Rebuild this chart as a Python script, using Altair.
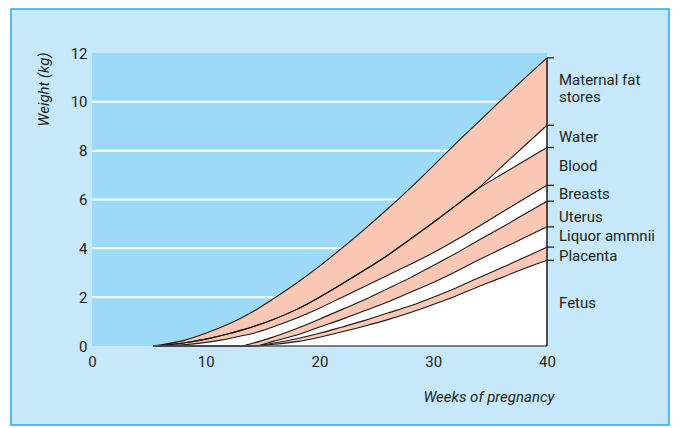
import altair as alt
import pandas as pd

# ---- data (cumulative weight in kg, top of each band) ----
weeks = [5.4, 8, 10, 12, 13, 14.2, 16, 18, 20, 22, 24, 26, 28, 30, 32, 33.8, 36, 38, 40]
fetus_top    = [0, 0, 0, 0, 0, 0, 0.07, 0.18, 0.36, 0.58, 0.82, 1.08, 1.37, 1.70, 2.05, 2.40, 2.80, 3.17, 3.51]
placenta_top = [0, 0, 0, 0, 0, 0, 0.12, 0.30, 0.52, 0.78, 1.05, 1.35, 1.65, 2.00, 2.38, 2.75, 3.20, 3.62, 4.05]
liquor_top   = [0, 0, 0, 0, 0, 0, 0.20, 0.45, 0.78, 1.10, 1.45, 1.80, 2.20, 2.60, 3.05, 3.48, 3.98, 4.43, 4.88]
uterus_top   = [0, 0, 0, 0, 0, 0.12, 0.38, 0.72, 1.10, 1.50, 1.90, 2.35, 2.80, 3.30, 3.80, 4.28, 4.85, 5.40, 5.93]
breasts_top  = [0, 0.05, 0.15, 0.30, 0.40, 0.52, 0.80, 1.15, 1.55, 2.00, 2.45, 2.90, 3.35, 3.82, 4.34, 4.84, 5.47, 6.03, 6.58]
blood_top    = [0, 0.12, 0.28, 0.50, 0.63, 0.80, 1.10, 1.50, 2.00, 2.55, 3.12, 3.72, 4.38, 5.06, 5.76, 6.40, 7.02, 7.58, 8.13]
water_top    = [0, 0.12, 0.28, 0.50, 0.63, 0.80, 1.10, 1.50, 2.00, 2.55, 3.12, 3.72, 4.38, 5.06, 5.76, 6.40, 7.34, 8.19, 9.04]
total_top    = [0, 0.22, 0.52, 0.90, 1.12, 1.42, 1.95, 2.58, 3.27, 4.02, 4.80, 5.62, 6.48, 7.38, 8.30, 9.10, 10.08, 10.95, 11.80]

bands = ["Fetus", "Placenta", "Liquor ammnii", "Uterus", "Breasts", "Blood", "Water", "Maternal fat stores"]
band_tops = [fetus_top, placenta_top, liquor_top, uterus_top, breasts_top, blood_top, water_top, total_top]
band_fill = ["white", "#f9c7b3", "white", "#f9c7b3", "white", "#f9c7b3", "white", "#f9c7b3"]

label_text = ["Maternal fat", "stores", "Water", "Blood", "Breasts", "Uterus", "Liquor ammnii", "Placenta", "Fetus"]
label_y = [10.88, 10.2, 8.57, 7.36, 6.23, 5.30, 4.49, 3.67, 1.76]

grid_values = [2, 4, 6, 8, 10]
x_ticks = [0, 10, 20, 30, 40]
y_ticks = [0, 2, 4, 6, 8, 10, 12]

# ---- tables ----
rows = []
for i, name in enumerate(bands):
    lower = band_tops[i - 1] if i > 0 else [0] * len(weeks)
    for w, lo, hi in zip(weeks, lower, band_tops[i]):
        rows.append({"week": w, "band": name, "lower": lo, "upper": hi, "order": i})
band_df = pd.DataFrame(rows)

line_rows = []
for name, tops in zip(bands, band_tops):
    for w, v in zip(weeks, tops):
        line_rows.append({"week": w, "line": name, "value": v})
line_df = pd.DataFrame(line_rows)

end_df = pd.DataFrame({"value": [t[-1] for t in band_tops]})
label_df = pd.DataFrame({"label": label_text, "y": label_y})
grid_df = pd.DataFrame({"g": grid_values})

W, H = 455, 293
TEXT = "#231f20"
FONT = "Roboto"

xscale = alt.Scale(domain=[0, 40], nice=False, zero=False)
yscale = alt.Scale(domain=[0, 12], nice=False)
xaxis = alt.Axis(values=x_ticks, title="Weeks of pregnancy", titleX=462, titleY=55,
                 titleAlign="right", titleBaseline="alphabetic", titleFontStyle="italic",
                 labelPadding=8, titleFontWeight="normal", zindex=2, labelFlush=False)
yaxis = alt.Axis(values=y_ticks, title="Weight (kg)", titleX=-49, titleY=36, titleAngle=270,
                 titleAlign="center", titleBaseline="middle", titleFontStyle="italic",
                 labelPadding=5, titleFontWeight="normal", zindex=2, labelFlush=False)

panel = alt.Chart(pd.DataFrame({"a": [0]})).mark_rect(
    fill="#c6e8fa", stroke="#2ba9e1", strokeWidth=1.5
).encode(x=alt.value(-81), x2=alt.value(577), y=alt.value(-44), y2=alt.value(372))

plotbg = alt.Chart(pd.DataFrame({"a": [0]})).mark_rect(fill="#9dd9f8").encode(
    x=alt.value(0), x2=alt.value(W), y=alt.value(0), y2=alt.value(H)
)

grid = alt.Chart(grid_df).mark_rule(color="white", strokeWidth=2).encode(
    x=alt.X(datum=0, scale=xscale, axis=xaxis),
    x2=alt.X2(datum=40),
    y=alt.Y("g:Q", scale=yscale, axis=yaxis),
)

areas = alt.Chart(band_df).mark_area(interpolate="monotone", strokeWidth=0).encode(
    x=alt.X("week:Q", scale=xscale, axis=xaxis),
    y=alt.Y("upper:Q", scale=yscale, axis=yaxis, stack=None),
    y2="lower:Q",
    color=alt.Color("band:N", scale=alt.Scale(domain=bands, range=band_fill), legend=None),
    order="order:Q",
)

lines = alt.Chart(line_df).mark_line(interpolate="monotone", color="#1a1a1a", strokeWidth=1.1).encode(
    x=alt.X("week:Q", scale=xscale, axis=xaxis),
    y=alt.Y("value:Q", scale=yscale, axis=yaxis),
    detail="line:N",
)

baseline = alt.Chart(pd.DataFrame({"a": [0]})).mark_rule(color="#555555", strokeWidth=1.5).encode(
    x=alt.X(datum=weeks[0], scale=xscale, axis=xaxis), x2=alt.X2(datum=40),
    y=alt.Y(datum=0, scale=yscale, axis=yaxis),
)

edge = alt.Chart(pd.DataFrame({"a": [0]})).mark_rule(color="#1a1a1a", strokeWidth=1.5).encode(
    x=alt.X(datum=40, scale=xscale, axis=xaxis),
    y=alt.Y(datum=0, scale=yscale, axis=yaxis), y2=alt.Y2(datum=total_top[-1]),
)

ticks = alt.Chart(end_df).mark_rule(color="#1a1a1a", strokeWidth=1.2, x2Offset=7).encode(
    x=alt.X(datum=40, scale=xscale, axis=xaxis), x2=alt.X2(datum=40),
    y=alt.Y("value:Q", scale=yscale, axis=yaxis),
)

labels = alt.Chart(label_df).mark_text(
    align="left", baseline="middle", dx=12, fontSize=15, font=FONT, color=TEXT
).encode(
    x=alt.X(datum=40, scale=xscale, axis=xaxis),
    y=alt.Y("y:Q", scale=yscale, axis=yaxis),
    text="label:N",
)

chart = alt.layer(panel, plotbg, grid, areas, lines, baseline, edge, ticks, labels).properties(
    width=W, height=H,
    padding={"left": 84, "top": 45, "right": 123, "bottom": 80},
    autosize=alt.AutoSizeParams(type="none"),
    background="white",
).configure_view(stroke=None).configure_axis(
    grid=False, domain=False, ticks=False,
    labelFont=FONT, labelFontSize=15, labelColor=TEXT,
    titleFont=FONT, titleFontSize=15, titleColor=TEXT,
)

chart.save("out.html", embed_options={"renderer": "svg", "actions": False})
